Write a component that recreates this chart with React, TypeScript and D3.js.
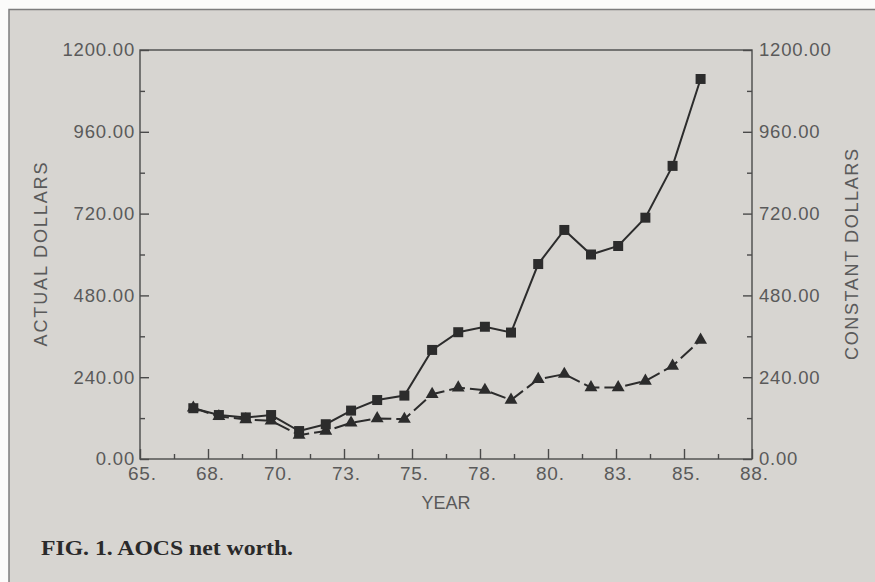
import { useEffect, useRef } from "react";
import * as d3 from "d3";

// values (x positions sit slightly before each whole year)
const years = [66.96, 67.9, 68.89, 69.82, 70.85, 71.83, 72.76, 73.72, 74.72, 75.74, 76.7, 77.68, 78.64, 79.64, 80.6, 81.58, 82.58, 83.58, 84.58, 85.61];
const actualDollars = [149, 129, 122, 129, 82, 102, 142, 173, 186, 320, 372, 388, 371, 572, 672, 600, 625, 708, 860, 1115];
const constantDollars = [150, 125, 116, 112, 70, 82, 106, 119, 117, 190, 209, 202, 173, 234, 249, 210, 210, 229, 273, 349];

const yTicks = [0, 240, 480, 720, 960, 1200];
const yMinorTicks = [120, 360, 600, 840, 1080];
const xTicks = [65, 67.5, 70, 72.5, 75, 77.5, 80, 82.5, 85, 87.5];
const xTickLabels = ["65.", "68.", "70.", "73.", "75.", "78.", "80.", "83.", "85.", "88."];
const xMinorTicks = [66.25, 68.75, 71.25, 73.75, 76.25, 78.75, 81.25, 83.75, 86.25];

export default function App() {
  const svgRef = useRef<SVGSVGElement>(null);

  useEffect(() => {
    const width = 875;
    const height = 582;
    const margin = { top: 50, right: 123, bottom: 123, left: 140 };
    const innerW = width - margin.left - margin.right;
    const innerH = height - margin.top - margin.bottom;
    const ink = "#2c2c2c";
    const textInk = "#5a5a5a";
    const font = "'Liberation Sans', Arial, sans-serif";

    const root = d3.select(svgRef.current);
    root.selectAll("*").remove();
    root.attr("width", width).attr("height", height);

    // paper
    root.append("rect").attr("width", width).attr("height", height).attr("fill", "#fbfbfa");
    root
      .append("rect")
      .attr("x", 9)
      .attr("y", 9.5)
      .attr("width", width + 20)
      .attr("height", height + 20)
      .attr("fill", "#d7d5d1")
      .attr("stroke", "#7d7d7d")
      .attr("stroke-width", 1.5);

    const svg = root.append("g").attr("transform", `translate(${margin.left},${margin.top})`);

    const x = d3.scaleLinear().domain([65, 87.5]).range([0, innerW]);
    const y = d3.scaleLinear().domain([0, 1200]).range([innerH, 0]);

    // frame
    svg
      .append("rect")
      .attr("width", innerW)
      .attr("height", innerH)
      .attr("fill", "none")
      .attr("stroke", "#4a4a4a")
      .attr("stroke-width", 1.4);

    const styleAxis = (g: any, size: number) => {
      g.select(".domain").remove();
      g.selectAll("line").attr("stroke", "#4a4a4a").attr("stroke-width", 1.4);
      g.selectAll("text")
        .attr("fill", textInk)
        .attr("font-family", font)
        .attr("font-size", size)
        .attr("letter-spacing", 0.8);
    };

    // left axis (ticks point inward)
    svg
      .append("g")
      .call(d3.axisLeft(y).tickValues(yTicks).tickSizeInner(-9).tickSizeOuter(0).tickPadding(5).tickFormat(d3.format(".2f")))
      .call((g: any) => styleAxis(g, 18.5));
    svg
      .append("g")
      .call(d3.axisLeft(y).tickValues(yMinorTicks).tickSizeInner(-5).tickSizeOuter(0).tickFormat(() => ""))
      .call((g: any) => styleAxis(g, 18));

    // right axis
    svg
      .append("g")
      .attr("transform", `translate(${innerW},0)`)
      .call(d3.axisRight(y).tickValues(yTicks).tickSizeInner(-9).tickSizeOuter(0).tickPadding(7).tickFormat(d3.format(".2f")))
      .call((g: any) => styleAxis(g, 18.5));
    svg
      .append("g")
      .attr("transform", `translate(${innerW},0)`)
      .call(d3.axisRight(y).tickValues(yMinorTicks).tickSizeInner(-5).tickSizeOuter(0).tickFormat(() => ""))
      .call((g: any) => styleAxis(g, 18));

    // bottom axis
    svg
      .append("g")
      .attr("transform", `translate(0,${innerH})`)
      .call(
        d3
          .axisBottom(x)
          .tickValues(xTicks)
          .tickSizeInner(-10)
          .tickSizeOuter(0)
          .tickPadding(8)
          .tickFormat((d: any, i: number) => xTickLabels[i])
      )
      .call((g: any) => styleAxis(g, 19))
      .call((g: any) => g.selectAll("text").attr("dx", "0.1em"));
    svg
      .append("g")
      .attr("transform", `translate(0,${innerH})`)
      .call(d3.axisBottom(x).tickValues(xMinorTicks).tickSizeInner(-5).tickSizeOuter(0).tickFormat(() => ""))
      .call((g: any) => styleAxis(g, 19));

    // axis titles
    svg
      .append("text")
      .attr("x", innerW / 2)
      .attr("y", innerH + 50)
      .attr("text-anchor", "middle")
      .attr("fill", textInk)
      .attr("font-family", font)
      .attr("font-size", 18)
      .text("YEAR");

    svg
      .append("text")
      .attr("transform", `translate(${-93},${innerH / 2}) rotate(-90)`)
      .attr("text-anchor", "middle")
      .attr("fill", textInk)
      .attr("font-family", font)
      .attr("font-size", 18)
      .attr("textLength", 184)
      .attr("lengthAdjust", "spacing")
      .text("ACTUAL DOLLARS");

    svg
      .append("text")
      .attr("transform", `translate(${innerW + 106},${innerH / 2}) rotate(-90)`)
      .attr("text-anchor", "middle")
      .attr("fill", textInk)
      .attr("font-family", font)
      .attr("font-size", 18)
      .attr("textLength", 211)
      .attr("lengthAdjust", "spacing")
      .text("CONSTANT DOLLARS");

    // series
    const pts = (vals: number[]) => years.map((yr, i) => [x(yr), y(vals[i])] as [number, number]);
    const line = d3.line();

    svg
      .append("path")
      .attr("d", line(pts(constantDollars)))
      .attr("fill", "none")
      .attr("stroke", ink)
      .attr("stroke-width", 2)
      .attr("stroke-dasharray", "16 5");

    svg
      .append("path")
      .attr("d", line(pts(actualDollars)))
      .attr("fill", "none")
      .attr("stroke", ink)
      .attr("stroke-width", 2);

    svg
      .selectAll(".tri")
      .data(pts(constantDollars))
      .join("path")
      .attr("class", "tri")
      .attr("transform", (d) => `translate(${d[0]},${d[1]})`)
      .attr("d", d3.symbol(d3.symbolTriangle, 72)())
      .attr("fill", ink);

    svg
      .selectAll(".sq")
      .data(pts(actualDollars))
      .join("path")
      .attr("class", "sq")
      .attr("transform", (d) => `translate(${d[0]},${d[1]})`)
      .attr("d", d3.symbol(d3.symbolSquare, 100)())
      .attr("fill", ink);

    // caption
    root
      .append("text")
      .attr("x", 41)
      .attr("y", 555)
      .attr("fill", "#2a2a2a")
      .attr("font-family", "'Liberation Serif', 'Times New Roman', serif")
      .attr("font-weight", "bold")
      .attr("font-size", 21)
      .attr("textLength", 252)
      .attr("lengthAdjust", "spacingAndGlyphs")
      .text("FIG. 1. AOCS net worth.");
  }, []);

  return <svg ref={svgRef} style={{ position: "absolute", left: 0, top: 0, display: "block" }}></svg>;
}
